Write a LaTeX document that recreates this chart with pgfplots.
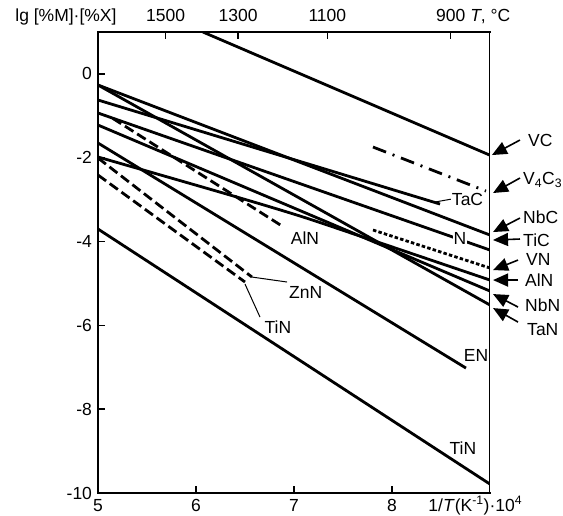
\documentclass[border=0pt]{standalone}
\usepackage{fontspec}
\setmainfont{Liberation Sans}
\usepackage{pgfplots}
\pgfplotsset{compat=1.18}
\usetikzlibrary{arrows.meta}
\begin{document}
\fontsize{17.5}{20}\selectfont
\begin{tikzpicture}
\pgfplotsset{
  common/.style={width=392pt,height=461pt,scale only axis,
    xmin=5,xmax=9,ymin=-10,ymax=1,
    major tick length=7pt,
    every tick/.style={black,line width=1.4pt},
    axis line style={-,line width=2.2pt,line cap=rect}},
}
\begin{axis}[common,
  axis x line*=bottom, axis y line*=left, tick align=inside,
  xtick={5,6,7,8}, xticklabels={5,6,7,8},
  ytick={-10,-8,-6,-4,-2,0}, yticklabels={-10,-8,-6,-4,-2,0},
  xticklabel style={text height=12pt,text depth=4pt},
  extra x ticks={8.85},
  extra x tick labels={1/\textit{T}(K\textsuperscript{-1})·10\textsuperscript{4}},
  extra x tick style={major tick length=0pt},
  cycle list={{black,solid}},
  every axis plot/.append style={line width=2.8pt, black, no markers},
]
% VC
\addplot[black] coordinates {(6.07,1.0) (9,-1.94)};
% V4C3 dash-dot
\addplot[black,dash pattern=on 14pt off 7pt on 2pt off 7pt] coordinates {(7.806,-1.745) (8.959,-2.795)};
% NbC
\addplot[black] coordinates {(5,-0.265) (9,-3.845)};
% TaN
\addplot[black] coordinates {(5,-0.265) (9,-5.515)};
% TaC
\addplot[black] coordinates {(5,-0.623) (8.49,-3.105)};
% TiC
\addplot[black] coordinates {(5,-0.933) (9,-4.203)};
% NbN
\addplot[black] coordinates {(5,-1.220) (9,-5.181)};
% AlN (solid, slightly curved)
\addplot[black,smooth] coordinates {(5,-1.983) (6.347,-2.890) (7.061,-3.391) (7.673,-3.869) (9,-4.919)};
% VN dotted
\addplot[black,dash pattern=on 3.5pt off 2.2pt] coordinates {(7.806,-3.725) (9,-4.632)};
% AlN dashed
\addplot[black,dash pattern=on 10pt off 4.5pt] coordinates {(5.15,-1.06) (6.878,-3.630)};
% EN
\addplot[black] coordinates {(5,-1.649) (8.755,-7.019)};
% ZnN dashed
\addplot[black,dash pattern=on 10pt off 4.5pt] coordinates {(5,-2.007) (6.571,-4.847)};
% TiN dashed
\addplot[black,dash pattern=on 10pt off 4.5pt] coordinates {(5,-2.413) (6.5,-4.966)};
% TiN solid
\addplot[black] coordinates {(5,-3.701) (9,-9.788)};
\end{axis}

\begin{axis}[common,
  axis x line*=top, axis y line=none, tick align=inside, clip=false,
  xtick={5.69,6.43,7.34,8.60},
  xticklabels={1500,1300,1100,{900\rlap{\ \textit{T}, °C}}},
  xticklabel style={text height=12pt,text depth=4pt},
  ytick=\empty,
]
\draw[line width=1pt] (axis cs:9,-10) -- (axis cs:9,1);
\node[anchor=south,inner sep=0.333em,text height=12pt,text depth=4pt] at (axis cs:4.673,1) {lg [\%M]·[\%X]};
% in-plot labels
\draw[line width=1pt] (axis cs:8.43,-3.06) -- (axis cs:8.6,-2.99);
\node[anchor=west,inner sep=1pt] at (axis cs:8.6,-2.986) {TaC};
\node[fill=white,inner sep=1pt] at (axis cs:8.694,-3.916) {N};
\node at (axis cs:7.112,-3.916) {AlN};
\draw[line width=1pt] (axis cs:6.571,-4.847) -- (axis cs:6.929,-4.966);
\node at (axis cs:7.12,-5.205) {ZnN};
\draw[line width=1pt] (axis cs:6.5,-5.014) -- (axis cs:6.653,-5.802);
\node at (axis cs:6.836,-6.041) {TiN};
\node at (axis cs:8.857,-6.73) {EN};
\node at (axis cs:8.724,-8.927) {TiN};
% right-hand labels with arrows
\begin{scope}[line width=1.6pt,-{Triangle[length=15pt,width=13pt]}]
\draw (axis cs:9.306,-1.578) -- (axis cs:9.020,-1.936);
\draw (axis cs:9.306,-2.484) -- (axis cs:9.031,-2.842);
\draw (axis cs:9.306,-3.439) -- (axis cs:9.031,-3.773);
\draw (axis cs:9.306,-3.940) -- (axis cs:9.031,-3.964);
\draw (axis cs:9.286,-4.442) -- (axis cs:9.031,-4.680);
\draw (axis cs:9.286,-4.919) -- (axis cs:9.031,-4.919);
\draw (axis cs:9.286,-5.563) -- (axis cs:9.031,-5.253);
\draw (axis cs:9.286,-5.921) -- (axis cs:9.031,-5.587);
\end{scope}
\begin{scope}[every node/.style={anchor=west,inner sep=0pt}]
\node at (axis cs:9.388,-1.578) {VC};
\node at (axis cs:9.337,-2.53) {V\textsubscript{4}C\textsubscript{3}};
\node at (axis cs:9.337,-3.415) {NbC};
\node at (axis cs:9.337,-3.964) {TiC};
\node at (axis cs:9.367,-4.418) {VN};
\node at (axis cs:9.357,-4.919) {AlN};
\node at (axis cs:9.357,-5.515) {NbN};
\node at (axis cs:9.378,-6.112) {TaN};
\end{scope}
\end{axis}
\pgfresetboundingbox
\path[use as bounding box] (-98pt,-22pt) rectangle (465pt,493pt);
\end{tikzpicture}
\end{document}
